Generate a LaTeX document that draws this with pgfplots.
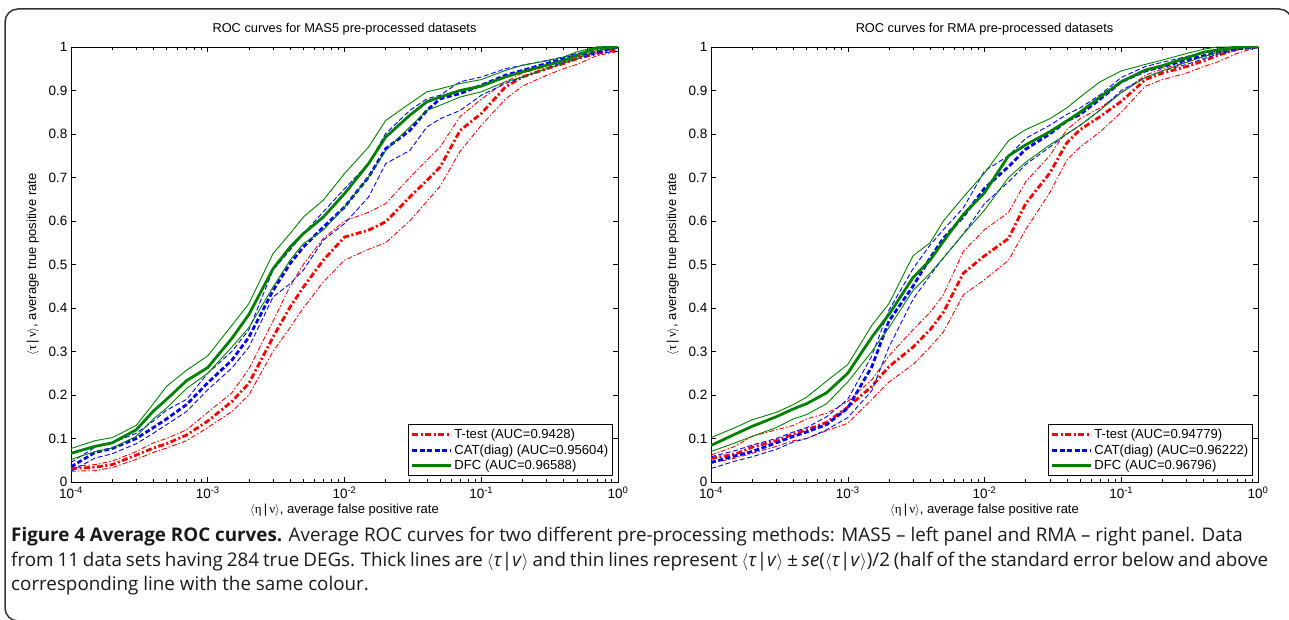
\documentclass[border=0pt]{standalone}
\usepackage{fontspec}
\usepackage{pgfplots}
\pgfplotsset{compat=1.18}
\usepackage{pgfplotstable}
\setmainfont{Liberation Sans}
\newfontfamily\capfont{Open Sans}
\newfontfamily\grk{Liberation Serif}
\definecolor{mgreen}{RGB}{0,128,0}

% columns: t = T-test, c = CAT(diag), d = DFC; m = mean, u/l = +/- se/2
\pgfplotstableread{
x       tm    tu    tl    cm    cu    cl    dm    du    dl
1e-4    0.031 0.036 0.025 0.035 0.045 0.025 0.066 0.077 0.052
1.5e-4  0.034 0.040 0.026 0.068 0.080 0.055 0.082 0.095 0.070
2e-4    0.040 0.048 0.033 0.077 0.090 0.065 0.090 0.102 0.078
3e-4    0.062 0.070 0.052 0.100 0.112 0.088 0.120 0.130 0.105
4e-4    0.078 0.090 0.068 0.125 0.140 0.112 0.163 0.180 0.145
5e-4    0.088 0.100 0.078 0.145 0.165 0.132 0.190 0.220 0.170
7e-4    0.108 0.120 0.095 0.178 0.190 0.162 0.233 0.257 0.215
1e-3    0.140 0.160 0.125 0.228 0.250 0.212 0.263 0.290 0.250
1.5e-3  0.185 0.205 0.162 0.280 0.300 0.262 0.330 0.360 0.310
2e-3    0.227 0.260 0.200 0.333 0.350 0.310 0.385 0.410 0.355
3e-3    0.333 0.370 0.300 0.440 0.487 0.425 0.490 0.525 0.448
4e-3    0.402 0.450 0.355 0.502 0.533 0.456 0.540 0.571 0.510
5e-3    0.448 0.500 0.400 0.540 0.571 0.487 0.571 0.609 0.548
7e-3    0.510 0.560 0.460 0.586 0.621 0.556 0.609 0.648 0.579
1e-2    0.563 0.600 0.510 0.632 0.674 0.594 0.663 0.709 0.632
1.5e-2  0.579 0.620 0.535 0.701 0.732 0.655 0.732 0.770 0.701
2e-2    0.598 0.640 0.550 0.766 0.801 0.732 0.793 0.831 0.762
3e-2    0.655 0.700 0.600 0.808 0.854 0.762 0.843 0.870 0.816
4e-2    0.693 0.740 0.645 0.854 0.881 0.816 0.874 0.897 0.854
5e-2    0.724 0.770 0.680 0.881 0.889 0.835 0.885 0.904 0.866
7e-2    0.808 0.840 0.760 0.893 0.920 0.854 0.900 0.916 0.885
0.1     0.847 0.880 0.820 0.912 0.931 0.889 0.910 0.925 0.897
0.15    0.908 0.920 0.880 0.935 0.950 0.916 0.931 0.946 0.920
0.2     0.931 0.940 0.910 0.946 0.958 0.931 0.943 0.958 0.931
0.3     0.950 0.955 0.935 0.962 0.969 0.950 0.958 0.968 0.950
0.4     0.962 0.968 0.950 0.973 0.977 0.966 0.969 0.977 0.962
0.5     0.973 0.977 0.960 0.981 0.985 0.973 0.981 0.989 0.973
0.7     0.985 0.987 0.980 0.989 0.996 0.985 0.998 1.000 0.992
1       0.995 1.000 0.990 1.000 1.000 0.990 1.000 1.000 1.000
}\mas

\pgfplotstableread{
x       tm    tu    tl    cm    cu    cl    dm    du    dl
1e-4    0.054 0.062 0.043 0.045 0.058 0.031 0.084 0.102 0.070
1.5e-4  0.064 0.082 0.055 0.060 0.072 0.048 0.110 0.125 0.090
2e-4    0.080 0.105 0.066 0.070 0.085 0.058 0.128 0.143 0.105
3e-4    0.095 0.120 0.082 0.090 0.100 0.075 0.150 0.160 0.125
4e-4    0.110 0.130 0.095 0.105 0.115 0.092 0.168 0.178 0.145
5e-4    0.120 0.145 0.100 0.115 0.125 0.100 0.180 0.195 0.155
7e-4    0.137 0.158 0.118 0.132 0.150 0.120 0.205 0.232 0.180
1e-3    0.172 0.185 0.135 0.170 0.190 0.148 0.250 0.270 0.230
1.5e-3  0.220 0.235 0.190 0.265 0.290 0.210 0.333 0.360 0.300
2e-3    0.265 0.290 0.230 0.370 0.395 0.310 0.385 0.410 0.355
3e-3    0.310 0.350 0.270 0.450 0.490 0.420 0.470 0.520 0.440
4e-3    0.350 0.390 0.310 0.515 0.545 0.475 0.510 0.550 0.480
5e-3    0.390 0.430 0.345 0.560 0.580 0.515 0.553 0.600 0.515
7e-3    0.480 0.530 0.430 0.610 0.630 0.570 0.615 0.655 0.570
1e-2    0.520 0.580 0.465 0.675 0.715 0.640 0.665 0.710 0.625
1.5e-2  0.560 0.620 0.510 0.725 0.750 0.690 0.750 0.785 0.700
2e-2    0.640 0.690 0.580 0.765 0.790 0.730 0.775 0.810 0.735
3e-2    0.710 0.750 0.665 0.800 0.820 0.770 0.805 0.835 0.775
4e-2    0.780 0.810 0.740 0.830 0.845 0.800 0.830 0.860 0.800
5e-2    0.810 0.835 0.770 0.845 0.860 0.820 0.850 0.885 0.820
7e-2    0.840 0.860 0.805 0.880 0.890 0.855 0.885 0.920 0.855
0.1     0.875 0.895 0.850 0.920 0.930 0.900 0.920 0.945 0.895
0.15    0.925 0.935 0.910 0.945 0.955 0.930 0.947 0.960 0.930
0.2     0.940 0.950 0.925 0.955 0.965 0.945 0.957 0.970 0.945
0.3     0.955 0.965 0.940 0.970 0.978 0.960 0.975 0.985 0.965
0.4     0.968 0.978 0.955 0.980 0.987 0.973 0.988 0.995 0.978
0.5     0.980 0.988 0.965 0.988 0.993 0.983 0.993 1.000 0.987
0.7     0.995 1.000 0.985 0.997 1.000 0.993 1.000 1.000 0.997
1       1.000 1.000 1.000 1.000 1.000 1.000 1.000 1.000 1.000
}\rma

\tikzset{
  ttest/.style={color=red, dash pattern=on 5pt off 2pt on 1.5pt off 2pt},
  ttestthick/.style={color=red, dash pattern=on 6pt off 2.5pt on 2pt off 2.5pt},
  cat/.style={color=blue, dash pattern=on 5pt off 2.5pt},
  dfc/.style={color=mgreen, solid},
  thk/.style={line width=2.8pt},
  thn/.style={line width=0.9pt},
}

\pgfplotsset{
  legend image code/.code={\draw[#1] (0pt,0pt) -- (39pt,0pt);},
  rocax/.style={
    scale only axis, width=547pt, height=435pt,
    xmin=1e-4, xmax=1, ymin=0, ymax=1,
    xtick={1e-4,1e-3,1e-2,1e-1,1},
    xticklabels={10\textsuperscript{-4},10\textsuperscript{-3},10\textsuperscript{-2},10\textsuperscript{-1},10\textsuperscript{0}},
    minor xtick={2e-4,3e-4,4e-4,5e-4,6e-4,7e-4,8e-4,9e-4,
                 2e-3,3e-3,4e-3,5e-3,6e-3,7e-3,8e-3,9e-3,
                 2e-2,3e-2,4e-2,5e-2,6e-2,7e-2,8e-2,9e-2,
                 0.2,0.3,0.4,0.5,0.6,0.7,0.8,0.9},
    ytick={0,0.1,0.2,0.3,0.4,0.5,0.6,0.7,0.8,0.9,1},
    yticklabels={0,0.1,0.2,0.3,0.4,0.5,0.6,0.7,0.8,0.9,1},
    tick align=inside, major tick length=5pt, minor tick length=3pt,
    every tick/.append style={black, line width=0.5pt},
    axis line style={line width=0.6pt},
    ticklabel style={font=\fontsize{13.5}{15}\selectfont},
    xticklabel style={yshift=-1pt},
    label style={font=\fontsize{13}{15}\selectfont},
    title style={font=\fontsize{12.8}{15}\selectfont,
      at={(axis description cs:0.5,1.028)}, anchor=center},
    xlabel style={at={(axis description cs:0.5,-0.0644)}, anchor=center},
    ylabel style={at={(axis description cs:-0.0695,0.5)}, anchor=center},
    xlabel={$\langle${\grk η}\,|\,{\grk ν}$\rangle$, average false positive rate},
    ylabel={$\langle${\grk τ}\,|\,{\grk ν}$\rangle$, average true positive rate},
    legend cell align=left,
    legend style={at={(1,0)}, anchor=south east, xshift=-5pt, yshift=6pt,
      font=\fontsize{13.1}{15}\selectfont, draw=black, line width=0.6pt,
      inner sep=2.5pt, row sep=0.5pt},
  }
}

\newcommand\rocplots[1]{%
  \addplot[forget plot, ttest, thn] table[x=x, y=tu] {#1};
  \addplot[forget plot, ttest, thn] table[x=x, y=tl] {#1};
  \addplot[ttestthick, thk] table[x=x, y=tm] {#1};
  \addplot[forget plot, cat, thn] table[x=x, y=cu] {#1};
  \addplot[forget plot, cat, thn] table[x=x, y=cl] {#1};
  \addplot[cat, thk] table[x=x, y=cm] {#1};
  \addplot[forget plot, dfc, thn] table[x=x, y=du] {#1};
  \addplot[forget plot, dfc, thn] table[x=x, y=dl] {#1};
  \addplot[dfc, thk] table[x=x, y=dm] {#1};
}

\newcommand\tv{$\langle$\textit{τ}|\textit{v}$\rangle$}

\begin{document}
\begin{tikzpicture}[x=1pt, y=1pt, line join=round]
\useasboundingbox (0,0) rectangle (1289,619);
\draw[line width=1.5pt, black!80, rounded corners=13pt]
  (40,-2) -- (5,-2) -- (5,610) -- (1292,610) -- (1292,560);

\begin{semilogxaxis}[rocax, at={(71pt,137pt)}, anchor=south west,
    title={ROC curves for MAS5 pre-processed datasets},
    legend entries={T-test (AUC=0.9428), CAT(diag) (AUC=0.95604), DFC (AUC=0.96588)}]
  \rocplots{\mas}
\end{semilogxaxis}

\begin{semilogxaxis}[rocax, at={(711pt,137pt)}, anchor=south west,
    title={ROC curves for RMA pre-processed datasets},
    legend entries={T-test (AUC=0.94779), CAT(diag) (AUC=0.96222), DFC (AUC=0.96796)}]
  \rocplots{\rma}
\end{semilogxaxis}

\begin{scope}[every node/.style={anchor=base west, inner sep=0pt,
    font=\capfont\fontsize{18.8}{22}\selectfont, text=black!90}]
  \node at (11,78) {\textbf{Figure 4 Average ROC curves.} Average ROC curves for two different pre-processing methods: MAS5 – left panel and RMA – right panel. Data};
  \node at (11,53) {\spaceskip=3.9pt\relax from 11 data sets having 284 true DEGs. Thick lines are \tv{} and thin lines represent \tv{} ± \textit{se}(\tv)/2 (half of the standard error below and above};
  \node at (11,29) {corresponding line with the same colour.};
\end{scope}
\end{tikzpicture}
\end{document}
